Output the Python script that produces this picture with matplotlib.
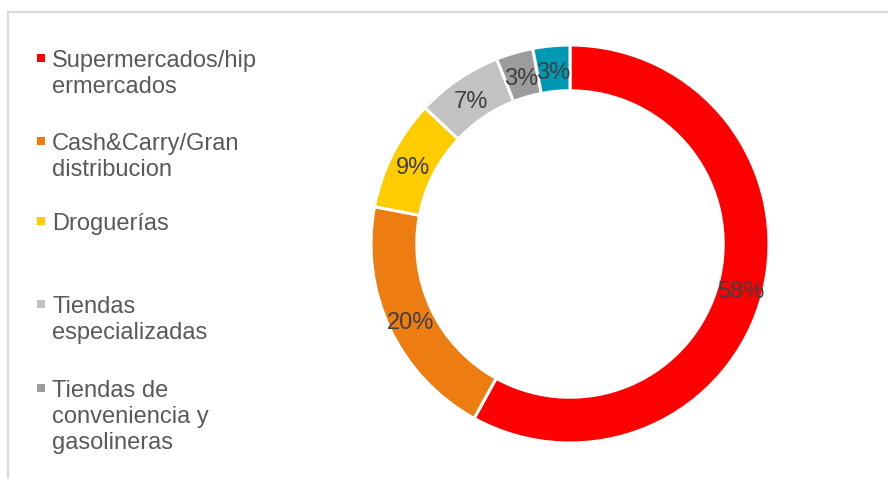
import matplotlib
matplotlib.use("Agg")
import matplotlib.pyplot as plt
import matplotlib.transforms as mtransforms
from matplotlib.lines import Line2D
from matplotlib.patches import Rectangle

plt.rcParams['font.family'] = ['Liberation Sans', 'DejaVu Sans']

categories = ["Supermercados/hip\nermercados", "Cash&Carry/Gran\ndistribucion", "Droguerías",
              "Tiendas\nespecializadas", "Tiendas de\nconveniencia y\ngasolineras", "Otros"]
values = [58, 20, 9, 7, 3, 3]
colors = ["#FF0000", "#EE7D11", "#FFCC00", "#C3C2C3", "#9D9B9D", "#0099B4"]
legend_shown = 5

W, H = 888, 479
fig = plt.figure(figsize=(W / 100, H / 100), dpi=100)

# frame lines (top and left)
fig.add_artist(Line2D([8 / W, 1], [1 - 12 / H, 1 - 12 / H], color="#D9D9D9", lw=1.5))
fig.add_artist(Line2D([8 / W, 8 / W], [0, 1 - 12 / H], color="#D9D9D9", lw=1.5))

cx, cy, r = 570, 244, 199
ax = fig.add_axes([(cx - r) / W, (H - cy - r) / H, 2 * r / W, 2 * r / H])
wedges, texts, autotexts = ax.pie(
    values, colors=colors, startangle=90, counterclock=False, radius=1.0,
    wedgeprops=dict(width=0.23, edgecolor="white", linewidth=2.2),
    autopct=lambda p: f"{p:.0f}%", pctdistance=0.885,
    textprops=dict(color="#404040", fontsize=17))
shift = mtransforms.ScaledTranslation(0, -4 / 100, fig.dpi_scale_trans)
for t in autotexts:
    t.set_transform(t.get_transform() + shift)
ax.set_xlim(-1.0, 1.0)
ax.set_ylim(-1.0, 1.0)
ax.set_aspect("equal")
ax.axis("off")

# legend (manually laid out, as in the original)
first_baselines = [67, 150, 230, 313, 397]
line_step = 26
for i in range(legend_shown):
    b = first_baselines[i]
    fig.add_artist(Rectangle((37 / W, 1 - (b - 5) / H), 8 / W, 8 / H,
                             transform=fig.transFigure, facecolor=colors[i], edgecolor="none"))
    for j, line in enumerate(categories[i].split("\n")):
        fig.text(52 / W, 1 - (b + j * line_step) / H, line, fontsize=17,
                 color="#595959", va="baseline", ha="left")

fig.savefig("out.png", dpi=100)
